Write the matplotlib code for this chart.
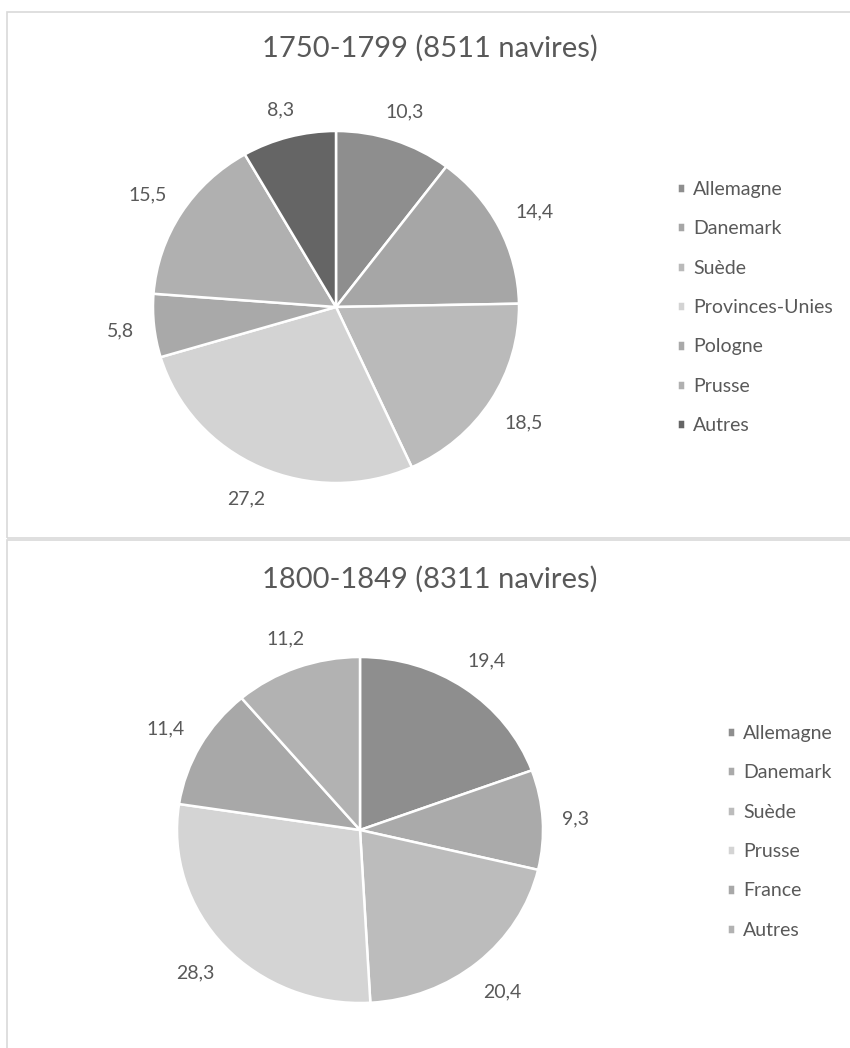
import numpy as np
import matplotlib.pyplot as plt
from matplotlib.patches import Rectangle

plt.rcParams['font.family'] = ['Lato', 'DejaVu Sans']

# 1750-1799
titre_1 = "1750-1799 (8511 navires)"
pays_1 = ["Allemagne", "Danemark", "Suède", "Provinces-Unies", "Pologne", "Prusse", "Autres"]
parts_1 = [10.3, 14.4, 18.5, 27.2, 5.8, 15.5, 8.3]
gris_1 = ["#8e8e8e", "#a6a6a6", "#bababa", "#d3d3d3", "#a9a9a9", "#b0b0b0", "#656565"]

# 1800-1849
titre_2 = "1800-1849 (8311 navires)"
pays_2 = ["Allemagne", "Danemark", "Suède", "Prusse", "France", "Autres"]
parts_2 = [19.4, 9.3, 20.4, 28.3, 11.4, 11.2]
gris_2 = ["#8e8e8e", "#aaaaaa", "#bcbcbc", "#d4d4d4", "#a8a8a8", "#b2b2b2"]

W, H = 850, 1048
TXT = "#595959"
PT = 72 / 100  # points per pixel

fig = plt.figure(figsize=(W / 100, H / 100), dpi=100)
fig.patch.set_facecolor("white")


def box(x0, y0, x1, y1):
    # figure fraction from pixel box (top-left origin)
    return [x0 / W, 1 - y1 / H, (x1 - x0) / W, (y1 - y0) / H]


def camembert(rect, parts, couleurs, pays, titre, titre_y, leg_xy):
    ax = fig.add_axes(box(*rect))
    rx = (rect[2] - rect[0]) / 2
    ry = (rect[3] - rect[1]) / 2
    wedges, _ = ax.pie(parts, colors=couleurs, startangle=90, counterclock=False,
                       wedgeprops=dict(edgecolor="white", linewidth=1.8))
    ax.set_aspect("auto")
    ax.set_xlim(-1, 1)
    ax.set_ylim(-1, 1)

    # value labels just outside each slice
    for w, v in zip(wedges, parts):
        phi = np.deg2rad((w.theta1 + w.theta2) / 2)
        ex, ey = np.cos(phi), np.sin(phi)
        u = np.array([ex * rx, ey * ry])
        u /= np.hypot(*u)
        s = f"{v:.1f}".replace(".", ",")
        half_w = 4.9 * len(s)
        half_h = 8
        d = 18 + half_w * abs(u[0]) + half_h * abs(u[1])
        ax.annotate(s, xy=(ex, ey), xytext=(u[0] * d * PT, u[1] * d * PT),
                    textcoords="offset points", ha="center", va="center_baseline",
                    fontsize=14, color=TXT, annotation_clip=False)

    fig.text(430 / W, 1 - titre_y / H, titre, ha="center", va="center",
             fontsize=21, color=TXT)
    fig.legend(wedges, pays, loc="upper left",
               bbox_to_anchor=(leg_xy[0] / W, 1 - leg_xy[1] / H),
               frameon=False, fontsize=14, labelcolor=TXT,
               handlelength=0.42, handleheight=0.42, handletextpad=0.42,
               labelspacing=1.15, borderpad=0, borderaxespad=0)
    return ax


camembert((153, 131, 519, 483), parts_1, gris_1, pays_1, titre_1, 48, (677, 181))
camembert((177, 657, 543, 1003), parts_2, gris_2, pays_2, titre_2, 579, (727, 725))

# panel frames
for y0, y1 in [(12, 538), (540, 1060)]:
    fig.patches.append(Rectangle((7 / W, 1 - y1 / H), (852 - 7) / W, (y1 - y0) / H,
                                 transform=fig.transFigure, fill=False,
                                 edgecolor="#d9d9d9", linewidth=1.2))

fig.savefig("out.png", dpi=100, facecolor="white")
